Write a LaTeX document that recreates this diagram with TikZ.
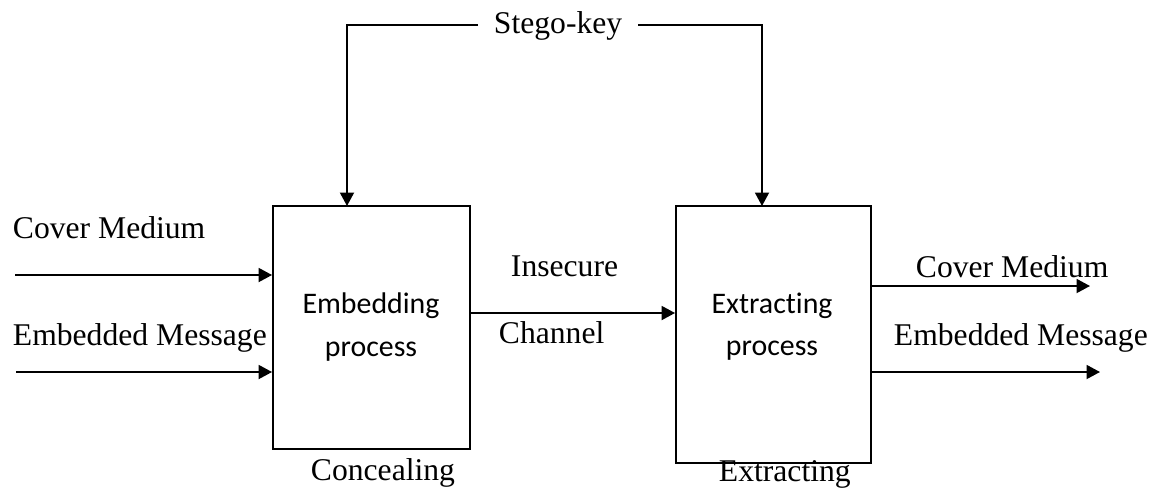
\documentclass[tikz,border=0pt]{standalone}
\usepackage{fontspec}
\setmainfont{Liberation Serif}
\newfontfamily\boxfont[Ligatures=NoCommon]{Carlito}
\usetikzlibrary{arrows.meta}

\begin{document}
\begin{tikzpicture}[x=0.02cm, y=-0.02cm,
  line width=1.1pt,
  arr/.style={-{Triangle[length=0.27cm,width=0.28cm]}},
  lbl/.style={anchor=base west, inner sep=0pt, font=\fontsize{18}{22}\selectfont},
  procbox/.style={draw, inner sep=0pt},
  proctext/.style={align=center, inner sep=0pt, font=\boxfont\fontsize{17}{24}\selectfont}]
\useasboundingbox (0,0) rectangle (1158,488);
 \node[procbox, minimum width=3.94cm, minimum height=4.86cm] (embed) at (371.5,327.5) {};
 \node[procbox, minimum width=3.9cm, minimum height=5.14cm] (extract) at (773.5,334.5) {};
 \node[proctext] (embtxt) at (371,327) {Embedding\\process};
 \node[proctext] (exttxt) at (772,327) {Extracting\\process};
\node[anchor=base west, inner xsep=0.3cm, inner ysep=0pt, font=\fontsize{18}{22}\selectfont] (key) at (478,33) {Stego-key};
\coordinate (kL) at (347,206);
\coordinate (kR) at (762,206);
\draw[arr] (key.west) -| (kL);
\draw[arr] (key.east) -| (kR);
\node[lbl] (coverin) at (12,238) {Cover Medium};
\node[lbl] (msgin) at (12,345) {Embedded Message};
\coordinate (cin) at (15,275);
\coordinate (min) at (16,372);
\draw[arr] (cin) -- (cin -| embed.west);
\draw[arr] (min) -- (min -| embed.west);
\node[lbl] (insecure) at (510,276) {Insecure};
\node[lbl] (channel) at (498,343) {Channel};
\coordinate (ch) at (470,313);
\draw[arr] (ch) -- (ch -| extract.west);
\node[lbl] (coverout) at (915,277) {Cover Medium};
\node[lbl] (msgout) at (893,345) {Embedded Message};
\coordinate (cout) at (1090,286);
\coordinate (mout) at (1100,372);
\draw[arr] (cout -| extract.east) -- (cout);
\draw[arr] (mout -| extract.east) -- (mout);
\node[lbl] (conceal) at (310,480) {Concealing};
\node[lbl] (extr) at (718,481) {Extracting};
 \end{tikzpicture}
\end{document}
